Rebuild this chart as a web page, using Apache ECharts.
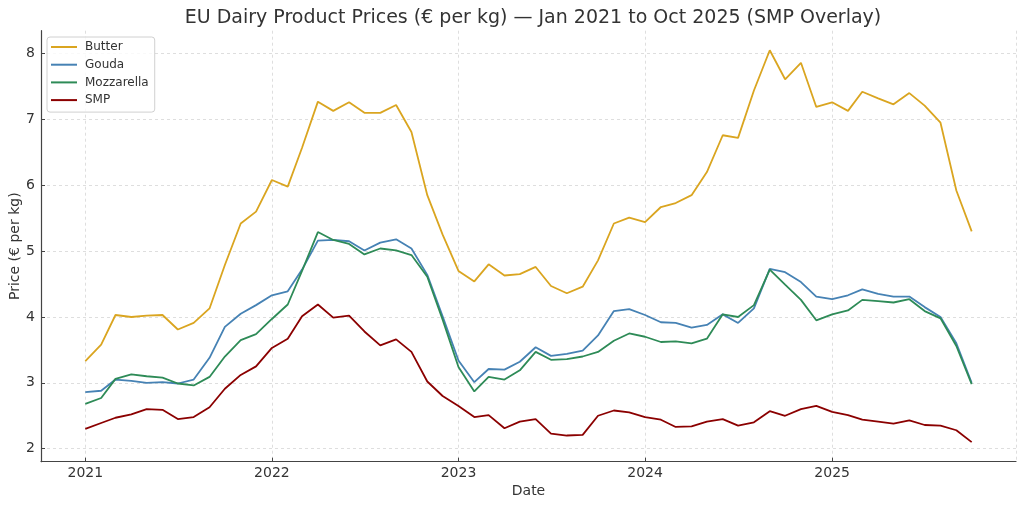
<!DOCTYPE html>
<html>
<head>
<meta charset="utf-8">
<script src="https://cdn.jsdelivr.net/npm/echarts@6/dist/echarts.min.js"></script>
<style>html,body{margin:0;padding:0;background:#fff}#c{width:1024px;height:508px}</style>
</head>
<body>
<div id="c"></div>
<script>
// Monthly dates Jan 2021 .. Oct 2025
const months = [];
for (let y = 2021; y <= 2025; y++) {
  for (let m = 1; m <= 12; m++) {
    if (y === 2025 && m > 10) break;
    months.push(y + '-' + String(m).padStart(2, '0') + '-01');
  }
}
const butter = [
  3.33, 3.58, 4.03, 4.00, 4.02, 4.03, 3.81, 3.91, 4.13, 4.79, 5.42, 5.60,
  6.08, 5.98, 6.57, 7.27, 7.13, 7.26, 7.10, 7.10, 7.22, 6.81, 5.85, 5.25,
  4.70, 4.54, 4.80, 4.63, 4.65, 4.76, 4.47, 4.36, 4.46, 4.86, 5.42, 5.51,
  5.44, 5.67, 5.73, 5.85, 6.20, 6.76, 6.72, 7.44, 8.05, 7.61, 7.86, 7.19,
  7.26, 7.13, 7.42, 7.32, 7.23, 7.40, 7.21, 6.95, 5.92, 5.30
];
const gouda = [
  2.86, 2.88, 3.05, 3.03, 3.00, 3.01, 2.99, 3.05, 3.38, 3.85, 4.05, 4.18,
  4.33, 4.39, 4.72, 5.16, 5.17, 5.15, 5.01, 5.13, 5.18, 5.04, 4.64, 4.01,
  3.34, 3.01, 3.21, 3.20, 3.32, 3.54, 3.41, 3.44, 3.49, 3.72, 4.09, 4.12,
  4.03, 3.92, 3.91, 3.84, 3.88, 4.04, 3.91, 4.13, 4.73, 4.68, 4.53, 4.31,
  4.27, 4.33, 4.42, 4.35, 4.31, 4.31, 4.15, 4.00, 3.60, 3.00
];
const mozzarella = [
  2.68, 2.77, 3.06, 3.13, 3.10, 3.08, 2.99, 2.96, 3.09, 3.40, 3.65, 3.74,
  3.97, 4.19, 4.70, 5.29, 5.17, 5.11, 4.95, 5.04, 5.01, 4.94, 4.61, 3.96,
  3.24, 2.87, 3.09, 3.05, 3.19, 3.47, 3.35, 3.36, 3.40, 3.47, 3.64, 3.75,
  3.70, 3.62, 3.63, 3.60, 3.67, 4.04, 4.00, 4.18, 4.72, 4.49, 4.26, 3.95,
  4.04, 4.10, 4.26, 4.24, 4.22, 4.27, 4.09, 3.98, 3.56, 2.98
];
const smp = [
  2.30, 2.39, 2.47, 2.52, 2.60, 2.59, 2.45, 2.48, 2.63, 2.91, 3.12, 3.25,
  3.53, 3.67, 4.01, 4.19, 3.99, 4.02, 3.78, 3.57, 3.66, 3.47, 3.02, 2.80,
  2.65, 2.48, 2.51, 2.31, 2.41, 2.45, 2.23, 2.20, 2.21, 2.50, 2.58, 2.55,
  2.48, 2.44, 2.33, 2.34, 2.41, 2.45, 2.35, 2.40, 2.57, 2.50, 2.60, 2.65,
  2.56, 2.51, 2.44, 2.41, 2.38, 2.43, 2.36, 2.35, 2.28, 2.10
];
const seriesNames = ['Butter', 'Gouda', 'Mozzarella', 'SMP'];
const seriesData = [butter, gouda, mozzarella, smp];
const colors = ['#DAA520', '#4682B4', '#2E8B57', '#8B0000'];

function ts(s) { const p = s.split('-').map(Number); return new Date(p[0], p[1] - 1, p[2]).getTime(); }
const t0 = ts(months[0]), t1 = ts(months[months.length - 1]);
const xSpan = t1 - t0;
const allVals = [].concat(butter, gouda, mozzarella, smp);
const vMin = Math.min.apply(null, allVals), vMax = Math.max.apply(null, allVals);
const vSpan = vMax - vMin;

const FONT = 'DejaVu Sans';
const GRID_LINE = { color: '#d6d6d6', type: [3, 3], width: 0.8 };
const chart = echarts.init(document.getElementById('c'), null, { renderer: 'canvas' });
chart.setOption({
  animation: false,
  backgroundColor: '#fff',
  color: colors,
  textStyle: { fontFamily: FONT },
  title: {
    text: 'EU Dairy Product Prices (€ per kg) — Jan 2021 to Oct 2025 (SMP Overlay)',
    left: 528, top: 4, textAlign: 'center',
    textStyle: { fontFamily: FONT, fontSize: 19, fontWeight: 'normal', color: '#333' }
  },
  legend: {
    orient: 'vertical', left: 47, top: 37,
    padding: [4, 6, 6, 4],
    icon: 'rect',
    itemWidth: 26, itemHeight: 2, itemGap: 5.7,
    backgroundColor: 'rgba(255,255,255,0.8)',
    borderColor: '#d0d0d0', borderWidth: 1, borderRadius: 3,
    textStyle: { fontFamily: FONT, fontSize: 12, color: '#333', padding: [0, 0, 0, 3] },
    data: seriesNames
  },
  grid: { left: 41, right: 8, top: 30.7, bottom: 46.3, containLabel: false, outerBoundsMode: 'none' },
  xAxis: {
    type: 'time',
    min: t0 - 0.05 * xSpan, max: t1 + 0.05 * xSpan,
    minInterval: 360 * 86400000,
    name: 'Date', nameLocation: 'middle', nameGap: 23, nameMoveOverlap: false,
    nameTextStyle: { fontFamily: FONT, fontSize: 14, color: '#333' },
    axisLine: { show: true, lineStyle: { color: '#444', width: 1.2 } },
    axisTick: { show: true, inside: true, length: 4, lineStyle: { color: '#444' } },
    axisLabel: {
      fontFamily: FONT, fontSize: 14, color: '#333', margin: 5,
      showMinLabel: false, showMaxLabel: false,
      formatter: function (v) { return String(new Date(v).getFullYear()); }
    },
    splitLine: { show: true, lineStyle: GRID_LINE }
  },
  yAxis: {
    type: 'value',
    min: vMin - 0.05 * vSpan, max: vMax + 0.05 * vSpan,
    name: 'Price (€ per kg)', nameLocation: 'middle', nameGap: 19, nameMoveOverlap: false,
    nameTextStyle: { fontFamily: FONT, fontSize: 14, color: '#333' },
    axisLine: { show: true, lineStyle: { color: '#444', width: 1.2 } },
    axisTick: { show: true, inside: true, length: 4, lineStyle: { color: '#444' } },
    axisLabel: {
      fontFamily: FONT, fontSize: 14, color: '#333', margin: 6,
      showMinLabel: false, showMaxLabel: false,
      formatter: function (v) { return Math.abs(v - Math.round(v)) < 1e-6 ? String(Math.round(v)) : ''; }
    },
    splitLine: { show: true, showMinLine: false, showMaxLine: false, lineStyle: GRID_LINE }
  },
  series: seriesNames.map(function (name, i) {
    return {
      name: name, type: 'line', showSymbol: false, symbol: 'none',
      lineStyle: { width: 1.8, color: colors[i] },
      itemStyle: { color: colors[i] },
      data: months.map(function (m, j) { return [ts(m), seriesData[i][j]]; })
    };
  })
});
</script>
</body>
</html>
